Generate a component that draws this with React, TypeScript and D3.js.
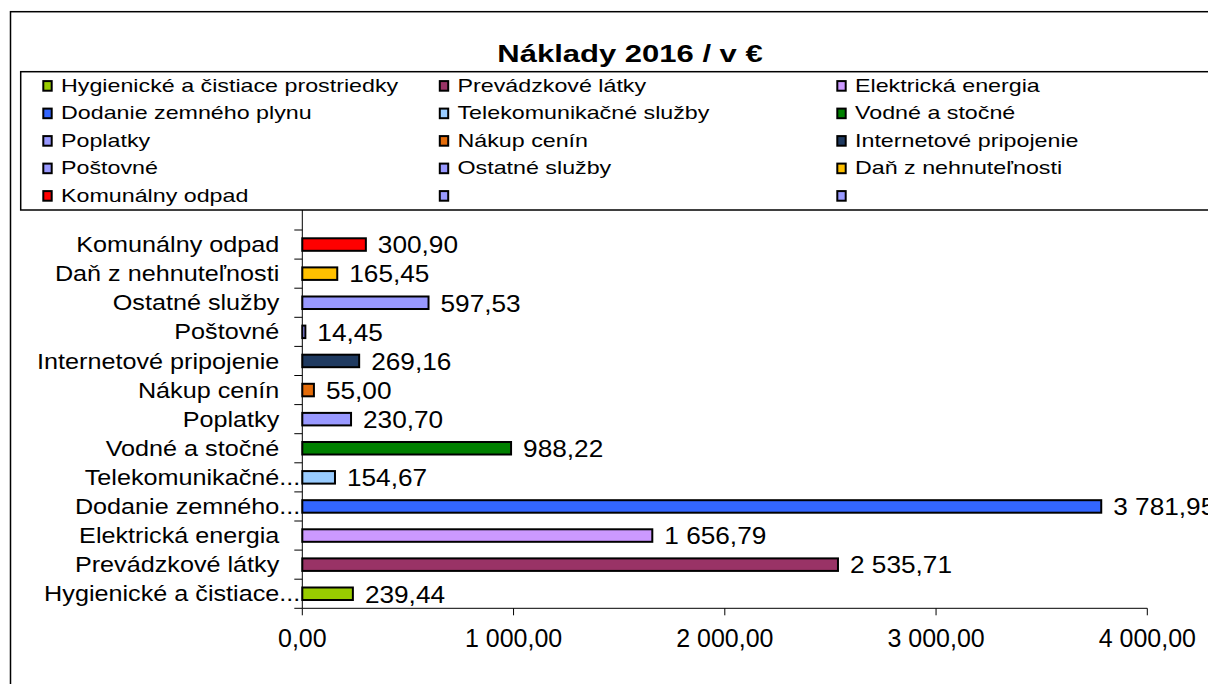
import React from "react";
import * as d3 from "d3";

const title = "Náklady 2016 / v €";

const categories = [
  "Hygienické a čistiace prostriedky",
  "Prevádzkové látky",
  "Elektrická energia",
  "Dodanie zemného plynu",
  "Telekomunikačné služby",
  "Vodné a stočné",
  "Poplatky",
  "Nákup cenín",
  "Internetové pripojenie",
  "Poštovné",
  "Ostatné služby",
  "Daň z nehnuteľnosti",
  "Komunálny odpad",
];

const axisLabels = [
  "Hygienické a čistiace...",
  "Prevádzkové látky",
  "Elektrická energia",
  "Dodanie zemného...",
  "Telekomunikačné...",
  "Vodné a stočné",
  "Poplatky",
  "Nákup cenín",
  "Internetové pripojenie",
  "Poštovné",
  "Ostatné služby",
  "Daň z nehnuteľnosti",
  "Komunálny odpad",
];

const values = [
  239.44, 2535.71, 1656.79, 3781.95, 154.67, 988.22, 230.7, 55.0, 269.16,
  14.45, 597.53, 165.45, 300.9,
];

const colors = [
  "#99CC00",
  "#993366",
  "#CC99FF",
  "#3366FF",
  "#99CCFF",
  "#008000",
  "#9999FF",
  "#E46C0A",
  "#1F3A60",
  "#9999FF",
  "#9999FF",
  "#FFC000",
  "#FF0000",
];

const legendNames = [...categories, "", ""];
const legendColors = [...colors, "#9999FF", "#9999FF"];

const xTicks = [0, 1000, 2000, 3000, 4000];

const locale = d3.formatLocale({
  decimal: ",",
  thousands: " ",
  grouping: [3],
  currency: ["", " €"],
});
const fmt = locale.format(",.2f");

const FONT = "'Liberation Sans', Arial, Helvetica, sans-serif";

function SText(props: {
  x: number;
  y: number;
  sx: number;
  size: number;
  anchor?: string;
  bold?: boolean;
  children: React.ReactNode;
}) {
  const { x, y, sx, size, anchor = "start", bold = false, children } = props;
  return (
    <text
      transform={`translate(${x},${y}) scale(${sx},1)`}
      textAnchor={anchor}
      fontFamily={FONT}
      fontSize={size}
      fontWeight={bold ? "bold" : "normal"}
      fill="#000"
    >
      {children}
    </text>
  );
}

export default function App() {
  const W = 1208;
  const H = 684;

  const x = d3.scaleLinear().domain([0, 4000]).range([302.3, 1147.3]);
  const y = d3
    .scaleBand<string>()
    .domain(categories)
    .range([608.3, 230])
    .paddingInner(0.57)
    .paddingOuter(0.285);

  const step = y.step();
  const yBottom = 608.3;
  const yTicks = d3.range(categories.length + 1).map((i) => yBottom - i * step);

  // legend geometry
  const legLeft = 20.7;
  const legTop = 71.7;
  const legBottom = 210;
  const colX = [42.5, 439, 836.5];
  const rowBase = 91.7;
  const rowStep = 27.5;

  return (
    <svg
      width={W}
      height={H}
      style={{ position: "absolute", left: 0, top: 0, background: "#fff" }}
    >
      <rect x={0} y={0} width={W} height={H} fill="#fff" />
      {/* outer chart border */}
      <rect
        x={10.5}
        y={11.7}
        width={W + 50}
        height={H + 50}
        fill="#fff"
        stroke="#000"
        strokeWidth={1.5}
      />

      {/* title */}
      <SText x={630} y={62} sx={1.32} size={23.5} anchor="middle" bold>
        {title}
      </SText>

      {/* y axis line */}
      <line
        x1={x(0)}
        x2={x(0)}
        y1={legBottom}
        y2={yBottom}
        stroke="#000"
        strokeWidth={1}
      />
      {/* y ticks */}
      {yTicks.map((t, i) => (
        <line
          key={"yt" + i}
          x1={x(0) - 8}
          x2={x(0)}
          y1={t}
          y2={t}
          stroke="#000"
          strokeWidth={1}
        />
      ))}
      {/* x axis line */}
      <line
        x1={x(0)}
        x2={x(4000)}
        y1={yBottom}
        y2={yBottom}
        stroke="#000"
        strokeWidth={1}
      />
      {xTicks.map((t) => (
        <g key={"xt" + t}>
          <line
            x1={x(t)}
            x2={x(t)}
            y1={yBottom}
            y2={yBottom + 7}
            stroke="#000"
            strokeWidth={1}
          />
          <SText x={x(t)} y={647.3} sx={1} size={25} anchor="middle">
            {fmt(t)}
          </SText>
        </g>
      ))}

      {/* bars */}
      {categories.map((c, i) => {
        const by = y(c) as number;
        const bh = y.bandwidth();
        const cy = by + bh / 2;
        return (
          <g key={"b" + i}>
            <rect
              x={x(0)}
              y={by}
              width={x(values[i]) - x(0)}
              height={bh}
              fill={colors[i]}
              stroke="#000"
              strokeWidth={2}
            />
            <SText x={x(values[i]) + 12} y={cy + 8.8} sx={1.07} size={24.5}>
              {fmt(values[i])}
            </SText>
            <SText
              x={axisLabels[i].endsWith("...") ? x(0) - 2 : x(0) - 23}
              y={cy + 7.6}
              sx={1.12}
              size={22.5}
              anchor="end"
            >
              {axisLabels[i]}
            </SText>
          </g>
        );
      })}

      {/* legend */}
      <rect
        x={legLeft}
        y={legTop}
        width={W + 50}
        height={legBottom - legTop}
        fill="#fff"
        stroke="#000"
        strokeWidth={1.5}
      />
      {legendNames.map((n, i) => {
        const col = i % 3;
        const row = Math.floor(i / 3);
        const bx = colX[col];
        const base = rowBase + row * rowStep;
        return (
          <g key={"l" + i}>
            <rect
              x={bx + 0.8}
              y={base - 10.6}
              width={8.4}
              height={9.6}
              fill={legendColors[i]}
              stroke="#000"
              strokeWidth={2}
            />
            <SText x={bx + 18.5} y={base} sx={1.25} size={18.6}>
              {n}
            </SText>
          </g>
        );
      })}
    </svg>
  );
}
